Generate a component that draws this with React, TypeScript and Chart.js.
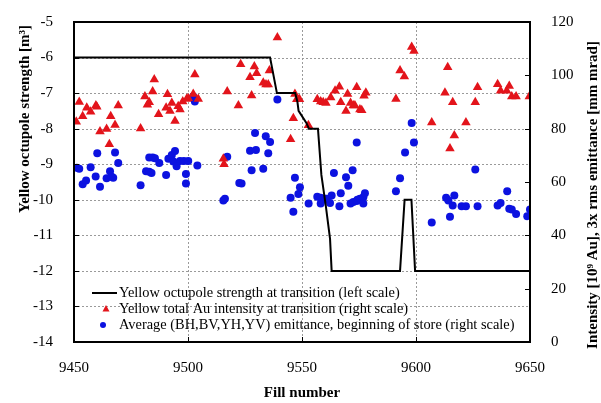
import React, { useEffect, useRef } from "react";
import { Chart, registerables } from "chart.js";

Chart.register(...registerables);

// Octupole strength (left scale) vs fill number
const octFill = [9450, 9536, 9539, 9547, 9548, 9548.5, 9552, 9553, 9557, 9558.5, 9560.5, 9562.3, 9563, 9593, 9595, 9598, 9599.6, 9650];
const octStrength = [-6, -6, -7, -7, -7.25, -7.5, -7.85, -8, -8, -9.3, -10.2, -11.1, -12, -12, -10, -10, -12, -12];

// Yellow total Au intensity at transition (right scale)
const intFill = [9451, 9452.3, 9453.8, 9455.6, 9457.3, 9459.6, 9460, 9461.4, 9464.3, 9465.5, 9466.1, 9468, 9469.4, 9479.2, 9481.1, 9482.2, 9483, 9484.5, 9485.2, 9487.1, 9490.4, 9491, 9492.1, 9492.9, 9494.3, 9495.7, 9496.5, 9497.7, 9499.4, 9500.1, 9502.3, 9503, 9504.5, 9515.5, 9515.8, 9517.2, 9522.1, 9523.1, 9527.2, 9527.9, 9529.1, 9530.1, 9533, 9534.2, 9535.2, 9535.7, 9539.2, 9545, 9546.2, 9546.9, 9547.7, 9548.9, 9552.8, 9556.7, 9558.2, 9559.3, 9560.5, 9562.6, 9564.5, 9566.4, 9567, 9569.3, 9570, 9571.3, 9572.5, 9573.2, 9574, 9575.4, 9576.2, 9577.2, 9578, 9591.2, 9593, 9594.9, 9598.1, 9599.1, 9606.9, 9612.7, 9613.9, 9614.9, 9616.1, 9616.8, 9621.9, 9626, 9627, 9635.8, 9637.1, 9639.8, 9640.9, 9642, 9643.9, 9649.7];
const intValue = [82.6, 90, 84.7, 87.8, 86.3, 88.7, 88.2, 78.9, 79.9, 74.2, 84.7, 81.4, 88.7, 80.1, 92.1, 89, 89.9, 93.9, 98.4, 85.4, 87.8, 92.9, 86.6, 89.6, 82.9, 88.4, 87.2, 90.2, 91.1, 91.4, 93, 100.3, 91.1, 68.7, 66.7, 93.9, 88.7, 104.2, 99.3, 92.4, 103.3, 100.8, 97.2, 96.6, 96.6, 101.8, 114.2, 76, 83.9, 93, 91, 91, 81.3, 91, 90.2, 89.9, 89.6, 91.7, 94.2, 95.7, 89.9, 86.6, 93, 89.6, 88.7, 88.7, 95.5, 87.2, 86.9, 92.3, 93.5, 91.1, 101.8, 99.6, 110.6, 109.1, 82.3, 93.5, 103, 72.6, 89.9, 77.4, 82.3, 89.9, 95.5, 96.7, 94.2, 94.2, 96, 92.1, 92.1, 92.1];

// Average emittance, beginning of store (right scale)
const emitFill = [9451.2, 9452.3, 9453.8, 9455.3, 9457.3, 9459.5, 9460.2, 9461.4, 9464.3, 9465.8, 9466.5, 9467.2, 9468, 9469.4, 9479.2, 9481.6, 9483, 9484, 9483, 9484.5, 9485.5, 9487.4, 9490.4, 9491.4, 9492.9, 9494.3, 9493.6, 9495, 9496.5, 9498.2, 9500.1, 9499.1, 9499.1, 9502.3, 9503, 9504.1, 9517.2, 9515.5, 9516.2, 9522.5, 9523.5, 9527.2, 9529.8, 9527.9, 9529.4, 9533, 9534.1, 9535.2, 9536, 9539.2, 9545, 9546.2, 9546.9, 9548.4, 9549.1, 9552.9, 9556.7, 9558.2, 9559.1, 9560.1, 9558.2, 9560.8, 9562.3, 9563, 9564, 9566.4, 9567, 9569.3, 9570.3, 9571.3, 9572.2, 9572.5, 9574, 9574.3, 9575.4, 9576.9, 9577.6, 9576.9, 9574, 9591.2, 9593, 9595.2, 9598.1, 9599.1, 9606.9, 9613.2, 9614.2, 9614.9, 9616.1, 9616.8, 9620, 9621.9, 9626, 9627, 9635.8, 9637.1, 9640, 9640.9, 9642, 9643.9, 9648.8, 9650];
const emitValue = [65.3, 65, 59.2, 60.6, 65.5, 62.1, 70.8, 58.2, 61.4, 64, 62, 61.6, 71.1, 67.1, 58.8, 64, 63.8, 63.4, 69.2, 69.2, 68.9, 67.1, 62.6, 68.7, 70.1, 71.6, 67.7, 65.9, 67.9, 67.9, 67.9, 63, 59.4, 92.1, 90.2, 66.2, 69.5, 53.1, 53.7, 59.6, 59.4, 71.7, 72, 64.4, 78.4, 65, 77.2, 70.8, 75, 90.9, 54.1, 48.8, 61.6, 55.5, 58, 51.9, 54.5, 54.1, 53.3, 53.7, 51.9, 53.7, 52.1, 54.9, 63.4, 50.9, 55.8, 61.8, 58.6, 51.9, 64.4, 52.5, 52.9, 53.3, 53.7, 54.3, 55.8, 51.9, 74.8, 56.5, 61.4, 71.1, 82.1, 74.8, 44.8, 54.1, 53.1, 47, 51.2, 54.9, 50.9, 50.9, 64.7, 50.9, 51.2, 52.1, 56.5, 50, 49.7, 48, 47.2, 49.7];

const xTicksStep = 50;
const leftTickStep = 1;
const rightTickStep = 20;

const legendLabels = [
  "Yellow octupole strength at transition (left scale)",
  "Yellow total Au intensity at transition (right scale)",
  "Average (BH,BV,YH,YV) emittance, beginning of store (right scale)",
];
const leftTitle = "Yellow octupole strength [m\u00B3]";
const rightTitle = "Intensity [10\u2079 Au], 3x rms emittance [mm mrad]";
const xTitle = "Fill number";

const RED = "#e3141b";
const BLUE = "#0c12e0";
const FONT = "'Liberation Serif', 'Times New Roman', serif";

const decorPlugin = {
  id: "decor",
  beforeDatasetsDraw(chart: any) {
    const { ctx, chartArea: a, scales } = chart;
    ctx.save();
    ctx.strokeStyle = "#9a9a9a";
    ctx.lineWidth = 1;
    ctx.setLineDash([2, 2]);
    const y = scales.y;
    for (let v = -13; v <= -6; v += leftTickStep) {
      const py = Math.round(y.getPixelForValue(v)) + 0.5;
      ctx.beginPath();
      ctx.moveTo(a.left, py);
      ctx.lineTo(a.right, py);
      ctx.stroke();
    }
    const x = scales.x;
    for (let v = 9500; v < 9650; v += xTicksStep) {
      const px = Math.round(x.getPixelForValue(v)) + 0.5;
      ctx.beginPath();
      ctx.moveTo(px, a.top);
      ctx.lineTo(px, a.bottom);
      ctx.stroke();
    }
    ctx.restore();
  },
  afterDatasetsDraw(chart: any) {
    const { ctx, chartArea: a, scales } = chart;
    ctx.save();
    ctx.setLineDash([]);
    ctx.strokeStyle = "#000";
    ctx.lineWidth = 1;
    // inward ticks
    const y = scales.y;
    for (let v = -13; v <= -6; v += leftTickStep) {
      const py = Math.round(y.getPixelForValue(v)) + 0.5;
      ctx.beginPath();
      ctx.moveTo(a.left, py);
      ctx.lineTo(a.left + 5, py);
      ctx.stroke();
    }
    const y2 = scales.y2;
    for (let v = 20; v <= 100; v += rightTickStep) {
      const py = Math.round(y2.getPixelForValue(v)) + 0.5;
      ctx.beginPath();
      ctx.moveTo(a.right, py);
      ctx.lineTo(a.right - 5, py);
      ctx.stroke();
    }
    const x = scales.x;
    for (let v = 9500; v < 9650; v += xTicksStep) {
      const px = Math.round(x.getPixelForValue(v)) + 0.5;
      ctx.beginPath();
      ctx.moveTo(px, a.bottom);
      ctx.lineTo(px, a.bottom - 5);
      ctx.stroke();
    }
    // border
    ctx.lineWidth = 2;
    ctx.strokeRect(a.left, a.top, a.right - a.left, a.bottom - a.top);

    // legend
    ctx.font = `14.4px ${FONT}`;
    ctx.fillStyle = "#000";
    ctx.textBaseline = "middle";
    ctx.textAlign = "left";
    const lx = 119;
    const ly = [293, 309, 325];
    ctx.lineWidth = 2;
    ctx.beginPath();
    ctx.moveTo(92, ly[0]);
    ctx.lineTo(117, ly[0]);
    ctx.stroke();
    ctx.fillStyle = RED;
    ctx.beginPath();
    ctx.moveTo(106, ly[1] - 4);
    ctx.lineTo(109.5, ly[1] + 2.5);
    ctx.lineTo(102.5, ly[1] + 2.5);
    ctx.closePath();
    ctx.fill();
    ctx.fillStyle = BLUE;
    ctx.beginPath();
    ctx.arc(103, ly[2], 3, 0, Math.PI * 2);
    ctx.fill();
    ctx.fillStyle = "#000";
    legendLabels.forEach((t, i) => ctx.fillText(t, lx, ly[i]));

    // axis titles
    ctx.font = `bold 15px ${FONT}`;
    ctx.textAlign = "center";
    ctx.save();
    ctx.translate(25, 119);
    ctx.rotate(-Math.PI / 2);
    ctx.fillText(leftTitle, 0, 0);
    ctx.restore();
    ctx.save();
    ctx.translate(593, 195);
    ctx.rotate(-Math.PI / 2);
    ctx.fillText(rightTitle, 0, 0);
    ctx.restore();
    ctx.fillText(xTitle, 302, 393);
    ctx.restore();
  },
};

export default function App() {
  const ref = useRef<HTMLCanvasElement>(null);
  useEffect(() => {
    if (!ref.current) return;
    const tickFont = { family: FONT, size: 15 };
    const chart = new Chart(ref.current, {
      type: "scatter",
      data: {
        datasets: [
          {
            label: legendLabels[0],
            type: "line",
            data: octFill.map((f, i) => ({ x: f, y: octStrength[i] })),
            borderColor: "#000",
            borderWidth: 2,
            pointRadius: 0,
            fill: false,
            tension: 0,
            yAxisID: "y",
          } as any,
          {
            label: legendLabels[1],
            data: intFill.map((f, i) => ({ x: f, y: intValue[i] })),
            pointStyle: "triangle",
            pointRadius: 5.5,
            backgroundColor: RED,
            borderColor: RED,
            borderWidth: 0,
            yAxisID: "y2",
          },
          {
            label: legendLabels[2],
            data: emitFill.map((f, i) => ({ x: f, y: emitValue[i] })),
            pointStyle: "circle",
            pointRadius: 4,
            backgroundColor: BLUE,
            borderColor: BLUE,
            borderWidth: 0,
            yAxisID: "y2",
          },
        ],
      },
      options: {
        animation: false,
        responsive: false,
        devicePixelRatio: 1,
        layout: { padding: { top: 14, left: 0, right: 0, bottom: 0 } },
        plugins: { legend: { display: false }, tooltip: { enabled: false } },
        scales: {
          x: {
            type: "linear",
            min: 9450,
            max: 9650,
            ticks: {
              stepSize: xTicksStep,
              font: tickFont,
              color: "#000",
              padding: 9,
              maxRotation: 0,
              callback: (v: any) => String(v),
            },
            grid: { display: false },
            border: { display: false },
            afterFit: (s: any) => { s.height = 61; },
          },
          y: {
            position: "left",
            min: -14,
            max: -5,
            ticks: { stepSize: leftTickStep, font: tickFont, color: "#000", padding: 13 },
            grid: { display: false },
            border: { display: false },
            afterFit: (s: any) => { s.width = 74; },
          },
          y2: {
            position: "right",
            min: 0,
            max: 120,
            ticks: { stepSize: rightTickStep, font: tickFont, color: "#000", padding: 13 },
            grid: { display: false },
            border: { display: false },
            afterFit: (s: any) => { s.width = 71; },
          },
        },
      } as any,
      plugins: [decorPlugin],
    });
    return () => chart.destroy();
  }, []);
  return (
    <div style={{ position: "fixed", left: 0, top: 0, width: 601, height: 403, background: "#fff" }}>
      <canvas ref={ref} width={601} height={403} />
    </div>
  );
}
